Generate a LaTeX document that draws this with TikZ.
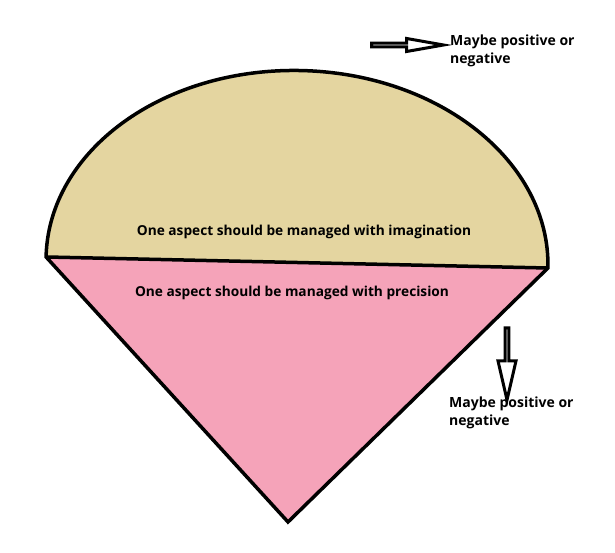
\documentclass[tikz,border=0pt]{standalone}
\usepackage{fontspec}
\setmainfont{Open Sans}
\usetikzlibrary{positioning,shapes.arrows}
\definecolor{domecol}{HTML}{E4D5A0}
\definecolor{conecol}{HTML}{F5A3B9}

\begin{document}
\begin{tikzpicture}[x=1pt,y=1pt,
    outline/.style={draw=black,line width=3.5pt},
    aspect/.style={font=\fontsize{13.7}{16}\selectfont\bfseries,inner sep=0pt},
    remark/.style={font=\fontsize{14}{18}\selectfont\bfseries,align=left,inner sep=0pt,anchor=north west},
    hollow/.style={single arrow,draw=black,fill=white,line width=3pt,inner sep=0pt,minimum height=72pt}]

\useasboundingbox (0,0) rectangle (615,553);

% Points de la figure
\coordinate (B) at (288,31);
\begin{scope}[shift={(297,290.5)},rotate=-1.26]
  \coordinate (L) at (-251,0);
  \coordinate (R) at (251,0);
  \fill[domecol] (L) arc[start angle=180,end angle=0,x radius=251,y radius=192] -- cycle;
\end{scope}
\fill[conecol] (L) -- (R) -- (B) -- cycle;

% Contour
\begin{scope}[shift={(297,290.5)},rotate=-1.26]
  \draw[outline] (L) arc[start angle=180,end angle=0,x radius=251,y radius=192] -- (B) -- cycle;
\end{scope}
\draw[outline] (L) -- (R);

% Textes
\node[aspect] (imag) at (304,321) {One aspect should be managed with imagination};
\node[aspect] (prec) at (292,260) {One aspect should be managed with precision};

% Fleches
\node[hollow,minimum width=13pt,single arrow head extend=3.5pt,single arrow tip angle=20] (toparrow) at (402,508) {};
\node[remark] (toplabel) at (450,518) {Maybe positive or\\negative};
\node[hollow,rotate=-90,minimum width=18pt,single arrow head extend=6pt,single arrow tip angle=26] (downarrow) at (507,193) {};
\node[remark] (downlabel) at (449,156) {Maybe positive or\\negative};

\end{tikzpicture}
\end{document}
